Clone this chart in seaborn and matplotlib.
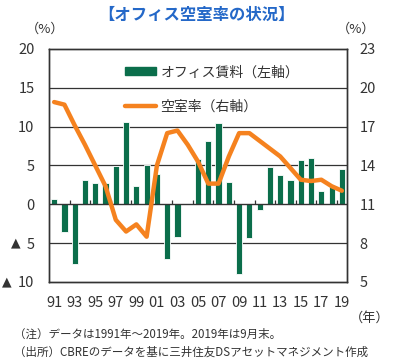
import numpy as np
import pandas as pd
import matplotlib
matplotlib.use("Agg")
import matplotlib.pyplot as plt
import seaborn as sns
from matplotlib.patches import Patch
from matplotlib.lines import Line2D
from matplotlib.transforms import blended_transform_factory

years = list(range(1991, 2020))
rent = [0.7, -3.6, -7.7, 3.1, 2.8, 2.8, 4.9, 10.6, 2.3, 5.05, 3.95, -7.1, -4.2, 0.0,
        5.9, 8.1, 10.5, 2.9, -9.0, -4.4, -0.7, 4.8, 3.8, 3.1, 5.7, 6.0, 1.7, 2.3, 4.6]
vacancy = [18.9, 18.7, 17.1, 15.6, 14.0, 12.4, 9.8, 8.9, 9.45, 8.5, 14.0, 16.5, 16.7, 15.6,
           14.3, 12.6, 12.6, 14.7, 16.5, 16.5, 15.9, 15.3, 14.7, 13.8, 12.9, 12.8, 12.9, 12.4, 12.05]
left_ticks = [-10, -5, 0, 5, 10, 15, 20]
left_labels = ["10", "5", "0", "5", "10", "15", "20"]
right_ticks = [5, 8, 11, 14, 17, 20, 23]
title = "【オフィス空室率の状況】"
legend_labels = ["オフィス賃料（左軸）", "空室率（右軸）"]
notes = ["（注）データは1991年～2019年。2019年は9月末。",
         "（出所）CBREのデータを基に三井住友DSアセットマネジメント作成"]

sns.set_style("white")
plt.rcParams['font.family'] = ['Noto Sans CJK JP', 'DejaVu Sans']

green = "#0B6E4B"
orange = "#F5821F"
txt = "#333333"

df = pd.DataFrame({"year": [f"{y % 100:02d}" for y in years], "idx": np.arange(len(years)),
                   "rent": rent, "vacancy": vacancy})

fig = plt.figure(figsize=(3.93, 3.64), dpi=100)
ax = fig.add_axes([0.1247, 0.2253, 0.7583, 0.6401])

sns.barplot(data=df, x="year", y="rent", color=green, saturation=1, width=0.6,
            edgecolor="white", linewidth=0.6, ax=ax, zorder=3)
ax.set_ylim(-10, 20)
ax.set_xlim(-0.5, len(years) - 0.5)
ax.set_yticks(left_ticks)
ax.set_yticklabels(left_labels, fontsize=10.5, color=txt)
for v in [15, 10, 5, -5]:
    ax.axhline(v, color="#333333", lw=0.9, zorder=1)
ax.axhline(0, color="#333333", lw=1.0, zorder=4)
ax.vlines(np.arange(1.5, len(years) - 1, 2), 0, 0.6, color="#333333", lw=0.9, zorder=4)
ax.set_xticks(np.arange(0, len(years), 2))
ax.set_xticklabels(df["year"][::2], fontsize=10.5, color=txt)
ax.tick_params(axis="both", length=0)
ax.tick_params(axis="x", pad=10)
ax.tick_params(axis="y", pad=10.5)
ax.set_xlabel("")
ax.set_ylabel("")
for s in ax.spines.values():
    s.set_color("#333333")
    s.set_linewidth(1.0)

# small triangles marking negative values
tr = blended_transform_factory(fig.transFigure, ax.transData)
ax.text(15.5 / 393, -5, "▲", transform=tr, ha="center", va="center", fontsize=9,
        color=txt, family="DejaVu Sans")
ax.text(6.5 / 393, -10, "▲", transform=tr, ha="center", va="center", fontsize=9,
        color=txt, family="DejaVu Sans")

ax2 = ax.twinx()
sns.lineplot(data=df, x="idx", y="vacancy", color=orange, lw=3.2, ax=ax2, zorder=5)
ax2.set_ylim(5, 23)
ax2.set_yticks(right_ticks)
ax2.set_yticklabels([str(t) for t in right_ticks], fontsize=10.5, color=txt)
ax2.tick_params(axis="y", length=0, pad=9)
ax2.set_ylabel("")
ax2.set_xlabel("")
ax2.set_xlim(-0.5, len(years) - 0.5)
for s in ax2.spines.values():
    s.set_color("#333333")
    s.set_linewidth(1.0)

handles = [Patch(facecolor=green, edgecolor=green),
           Line2D([0], [0], color=orange, lw=3.2)]
fig.legend(handles, legend_labels, loc="upper left", bbox_to_anchor=(0.285, 0.855),
           frameon=False, fontsize=10, handlelength=2.3, handleheight=0.5,
           labelspacing=1.45, handletextpad=0.3, labelcolor=txt)

fig.text(0.5, 0.958, title, ha="center", va="center", fontsize=11.8, fontweight="bold",
         color="#2468C8")
fig.text(0.115, 0.92, "（%）", ha="center", va="center", fontsize=9.5, color=txt)
fig.text(0.905, 0.92, "（%）", ha="center", va="center", fontsize=9.5, color=txt)
fig.text(0.94, 0.127, "（年）", ha="center", va="center", fontsize=9.5, color=txt)
fig.text(0.035, 0.082, notes[0], ha="left", va="center", fontsize=8.3, color=txt)
fig.text(0.035, 0.033, notes[1], ha="left", va="center", fontsize=8.3, color=txt)

fig.savefig("out.png", dpi=100)
